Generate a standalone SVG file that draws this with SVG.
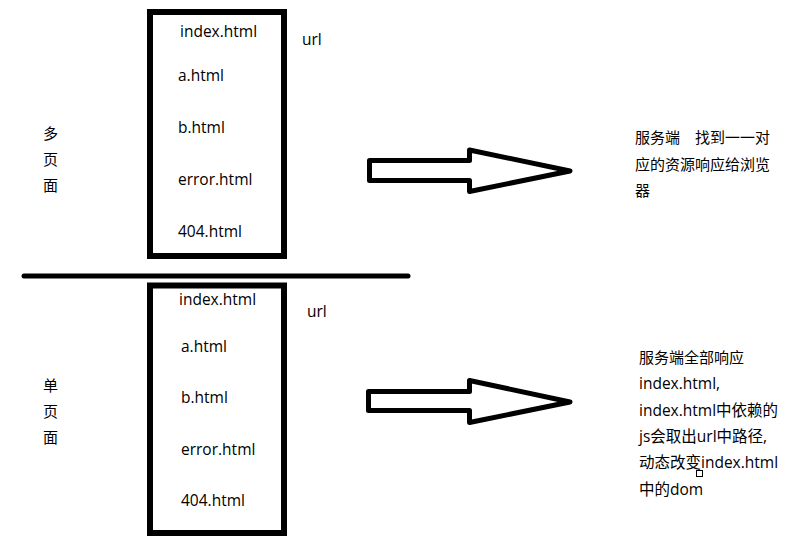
<svg xmlns="http://www.w3.org/2000/svg" width="798" height="549" viewBox="0 0 798 549">
<style>
.box{fill:none;stroke:#000;stroke-width:6}
.arrow{fill:#fff;stroke:#000;stroke-width:5;stroke-linejoin:round}
.t{font-family:"Open Sans","Noto Sans CJK SC",sans-serif;font-size:15.5px;fill:#000}
.c{font-family:"Noto Sans CJK SC",sans-serif;font-size:15px;fill:#000}
</style>
<rect width="798" height="549" fill="#fff"/>
<g id="multi-label">
<text class="c" x="43" y="139">多</text>
<text class="c" x="43" y="165">页</text>
<text class="c" x="43" y="191">面</text>
</g>
<g id="multi-box">
<rect class="box" x="150" y="12" width="134" height="244"/>
<text class="t" x="180" y="37">index.html</text>
<text class="t" x="178" y="81">a.html</text>
<text class="t" x="178" y="133">b.html</text>
<text class="t" x="178" y="185">error.html</text>
<text class="t" x="178" y="237">404.html</text>
<text class="t" x="302" y="45">url</text>
</g>
<g id="divider">
<line x1="24" y1="276" x2="408" y2="276" stroke="#000" stroke-width="5" stroke-linecap="round"/>
</g>
<g id="single-label">
<text class="c" x="43" y="391">单</text>
<text class="c" x="43" y="417">页</text>
<text class="c" x="43" y="443">面</text>
</g>
<g id="single-box">
<rect class="box" x="150" y="285.5" width="134" height="247.5"/>
<text class="t" x="179" y="305">index.html</text>
<text class="t" x="181" y="352">a.html</text>
<text class="t" x="181" y="403">b.html</text>
<text class="t" x="181" y="455">error.html</text>
<text class="t" x="181" y="506">404.html</text>
<text class="t" x="307" y="317">url</text>
</g>
<g id="connectors">
<path class="arrow" d="M369.5,160.5 H469.5 V150 L570,171 L469.5,191.5 V180.5 H369.5 Z"/>
<path class="arrow" d="M368.5,391.5 H469.5 V380.5 L570,402 L469.5,422.5 V410.5 H368.5 Z"/>
</g>
<g id="multi-desc">
<text class="c" x="635" y="143">服务端　找到一一对</text>
<text class="c" x="635" y="170">应的资源响应给浏览</text>
<text class="c" x="635" y="196">器</text>
</g>
<g id="single-desc">
<text class="c" x="639" y="363">服务端全部响应</text>
<text class="t" x="639" y="389">index.html,</text>
<text class="t" x="639" y="416">index.html中依赖的</text>
<text class="t" x="639" y="442">js会取出url中路径,</text>
<text class="t" x="639" y="468">动态改变index.html</text>
<text class="t" x="639" y="495">中的dom</text>
<rect x="696.5" y="470.5" width="6" height="6" fill="none" stroke="#000" stroke-width="1"/>
</g>
</svg>
